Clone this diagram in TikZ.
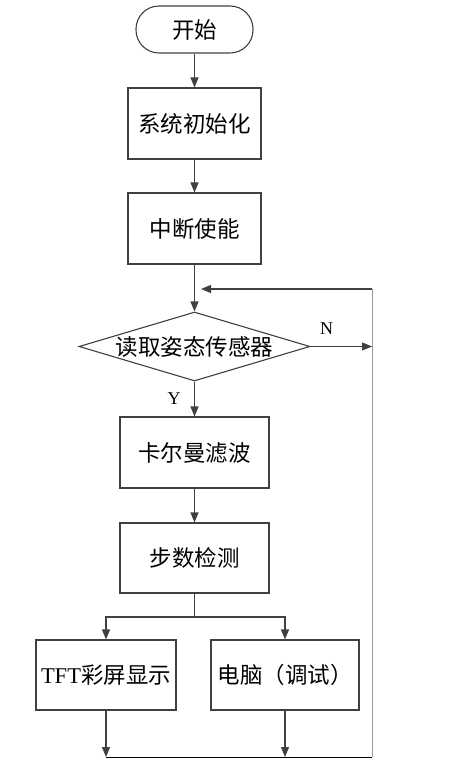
\documentclass[tikz,border=0pt]{standalone}
\usepackage{fontspec}
\setmainfont{Liberation Serif}
\newfontfamily\cjk{Noto Sans CJK SC}
\usetikzlibrary{arrows.meta,shapes.geometric}

\begin{document}
\begin{tikzpicture}[x=1pt,y=-1pt,
  line/.style={draw=black!75,line width=1.1pt},
  arr/.style={line,-{Triangle[length=10pt,width=8pt]}},
  box/.style={line,rectangle,inner sep=0pt,font=\cjk\fontsize{22.5}{26}\selectfont},
  yn/.style={font=\fontsize{18}{20}\selectfont}]
  \useasboundingbox (0,0) rectangle (463,767);
  % blocks
  \node[box,rounded corners=23pt,minimum width=117pt,minimum height=47pt] (start) at (194.5,29.5) {开始};
  \node[box,minimum width=133pt,minimum height=71pt] (init) at (194.5,123.5) {系统初始化};
  \node[box,minimum width=133pt,minimum height=71pt] (irq) at (194.5,228.5) {中断使能};
  \node[box,diamond,aspect=3.35,minimum width=231pt,minimum height=69pt] (read) at (194.5,346.5) {读取姿态传感器};
  \node[box,minimum width=149pt,minimum height=71pt] (kalman) at (194.5,452.5) {卡尔曼滤波};
  \node[box,minimum width=149pt,minimum height=70pt] (step) at (194.5,558) {步数检测};
  \node[box,minimum width=140pt,minimum height=70pt] (tft) at (106,675) {{\rmfamily TFT}彩屏显示};
  \node[box,minimum width=148pt,minimum height=70pt] (pc) at (285,675) {电脑（调试）};
  \coordinate (split) at (194.5,617);
  \coordinate (ret) at (201,289);
  \coordinate (rc) at (372,289);
  \coordinate (bc) at (372,757);
  \coordinate (bl) at (106,757);
  % flow
  \draw[arr] (start) -- (init);
  \draw[arr] (init) -- (irq);
  \draw[arr] (irq) -- (read);
  \draw[arr] (read) -- node[yn,left=10pt] {Y} (kalman);
  \draw[arr] (kalman) -- (step);
  \draw[line] (step) -- (split);
  \draw[arr] (split) -| (tft);
  \draw[arr] (split) -| (pc);
  \draw[arr] (tft) -- (tft |- bl);
  \draw[arr] (pc) -- (pc |- bl);
  \draw[arr] (read) -- node[yn,pos=0.26,above=8pt] {N} (read.east -| rc);
  % loop back
  \draw[black,line width=1pt] (bl) -- (bc);
  \draw[black!40,line width=0.8pt] (bc) -- (rc);
  \draw[arr] (rc) -- (ret);
\end{tikzpicture}
\end{document}
